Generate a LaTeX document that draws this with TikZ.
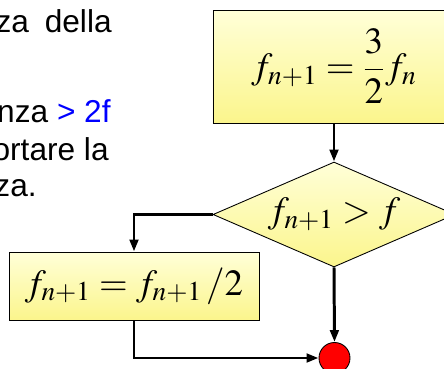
\documentclass[tikz,border=0pt]{standalone}
\usepackage{mathptmx}
\usepackage[no-math]{fontspec}
\setmainfont{Liberation Sans}
\usetikzlibrary{shapes.geometric,arrows.meta}
\definecolor{boxtop}{HTML}{FFFFD8}
\definecolor{boxbot}{HTML}{FBF58C}
\definecolor{txtblue}{HTML}{0000FF}
\begin{document}
\begin{tikzpicture}[x=0.02cm,y=-0.02cm,
  blk/.style={draw,line width=0.5pt,top color=boxtop,bottom color=boxbot,inner sep=0pt,
    font=\fontsize{21}{25}\selectfont},
  flow/.style={-{Triangle[length=0.24cm,width=0.17cm]},line width=1.7pt},
  para/.style={font=\fontsize{18}{22}\selectfont,inner sep=0pt},
]
  \useasboundingbox (0,0) rectangle (444,369);
  \clip (0,0) rectangle (444,369);

  % text of the slide, cut at the left edge
  \node[para,anchor=base east] (l1) at (112,32) {za\hskip0.5em della};
  \node[para,anchor=base east] (l2) at (111,122) {nza \textcolor{txtblue}{> 2f}};
  \node[para,anchor=base east] (l3) at (109,160) {ortare la};
  \node[para,anchor=base east] (l4) at (37,196) {za.};

  % flow chart (the upper box runs past the right edge)
  \path[blk] (213,10) rectangle (480,123);
  \node[font=\fontsize{21}{25}\selectfont,inner sep=0pt,minimum width=4.84cm,minimum height=2.26cm] (mult) at (334,66.5)
    {$\displaystyle f_{n+1}=\frac{3}{2}f_n$};
  \node[blk,diamond,shape aspect=2.3,minimum width=4.84cm,minimum height=2.1cm,
    label={[font=\fontsize{21}{25}\selectfont]center:{$f_{n+1}>f$}}] (test) at (334,214.5) {};
  \node[blk,minimum width=5cm,minimum height=1.36cm] (half) at (134,286)
    {$f_{n+1}=f_{n+1}\,/2$};
  \node[circle,draw,fill=red,line width=0.5pt,minimum size=0.62cm,inner sep=0pt] (join) at (334.5,358) {};

  \draw[flow] (mult) -- (test);
  \draw[flow] (test.west) -| (half.north);
  \draw[flow] (half.south) |- (join.west);
  \draw[flow] (test.south) -- (join.north);
\end{tikzpicture}
\end{document}
